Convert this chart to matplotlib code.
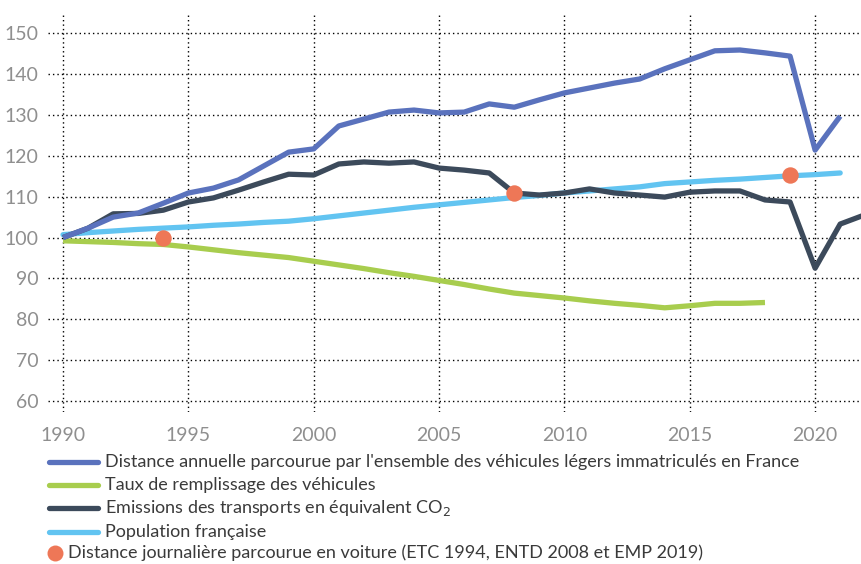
import matplotlib
matplotlib.use("Agg")
import matplotlib.pyplot as plt
from matplotlib.lines import Line2D

years = list(range(1990, 2022))
years_taux = list(range(1990, 2019))
years_emis = list(range(1990, 2023))

distance = [100.0, 102.3, 105.0, 106.0, 108.4, 110.9, 112.1, 114.1, 117.5, 120.9,
            121.7, 127.3, 129.0, 130.7, 131.2, 130.5, 130.7, 132.7, 131.9, 133.7,
            135.4, 136.6, 137.8, 138.8, 141.3, 143.5, 145.7, 145.9, 145.2, 144.4,
            121.4, 129.7]
taux = [99.2, 99.0, 98.8, 98.5, 98.3, 97.7, 97.0, 96.3, 95.7, 95.1,
        94.2, 93.3, 92.4, 91.4, 90.5, 89.5, 88.5, 87.4, 86.4, 85.8,
        85.2, 84.5, 83.9, 83.4, 82.8, 83.3, 83.9, 83.9, 84.1]
emissions = [100.0, 102.3, 105.8, 105.9, 106.7, 108.7, 109.7, 111.6, 113.6, 115.5,
             115.3, 118.0, 118.5, 118.2, 118.5, 117.0, 116.5, 115.8, 110.9, 110.4,
             110.9, 111.9, 110.9, 110.4, 109.9, 111.1, 111.4, 111.4, 109.2, 108.7,
             92.5, 103.3, 105.6]
population = [100.7, 101.2, 101.6, 102.0, 102.3, 102.6, 103.0, 103.3, 103.7, 104.0,
              104.6, 105.3, 106.0, 106.7, 107.4, 108.0, 108.6, 109.2, 109.8, 110.3,
              110.9, 111.4, 111.9, 112.4, 113.2, 113.6, 114.0, 114.3, 114.7, 115.1,
              115.4, 115.8]
enquete_years = [1994, 2008, 2019]
enquete_vals = [100.0, 110.9, 115.4]

x_ticks = [1990, 1995, 2000, 2005, 2010, 2015, 2020]
y_ticks = [60, 70, 80, 90, 100, 110, 120, 130, 140, 150]

labels = [
    "Distance annuelle parcourue par l'ensemble des véhicules légers immatriculés en France",
    "Taux de remplissage des véhicules",
    "Emissions des transports en équivalent CO$_2$",
    "Population française",
    "Distance journalière parcourue en voiture (ETC 1994, ENTD 2008 et EMP 2019)",
]

c_dist = "#5a72bd"
c_taux = "#a8cd4e"
c_emis = "#3c4a5b"
c_pop = "#62c4f1"
c_dot = "#ee7757"

plt.rcParams["font.family"] = ["Lato", "DejaVu Sans"]

fig = plt.figure(figsize=(8.62, 5.64), dpi=100)
ax = fig.add_axes([48 / 862, 1 - 412 / 564, 814 / 862, 400 / 564])

lw = 3.8
ax.plot(years_taux, taux, color=c_taux, lw=lw, solid_capstyle="butt", zorder=3)
ax.plot(years, population, color=c_pop, lw=lw, solid_capstyle="round", zorder=3)
ax.plot(years_emis, emissions, color=c_emis, lw=lw, solid_capstyle="butt", zorder=4)
ax.plot(years, distance, color=c_dist, lw=lw, solid_capstyle="butt", zorder=5)
ax.scatter(enquete_years, enquete_vals, s=140, color=c_dot, zorder=6, linewidths=0)

ax.set_xlim(1989.4, 2021.87)
ax.set_ylim(57.3, 155.2)
ax.set_xticks(x_ticks)
ax.set_yticks(y_ticks)
ax.grid(True, color="black", linestyle=(0, (1, 2.2)), linewidth=1.0)
ax.set_axisbelow(True)
for s in ax.spines.values():
    s.set_visible(False)
ax.tick_params(length=0, labelsize=14, labelcolor="#8f8f8f")
ax.tick_params(axis="x", pad=11)
ax.tick_params(axis="y", pad=7)

# legend
rows = [462, 485, 508, 532]
for y, col, lab in zip(rows, [c_dist, c_taux, c_emis, c_pop], labels[:4]):
    yf = 1 - y / 564
    fig.add_artist(Line2D([49 / 862, 98 / 862], [yf, yf], color=col, lw=3.8,
                          solid_capstyle="round", transform=fig.transFigure))
    fig.text(105 / 862, yf, lab, fontsize=13, color="#3a3a3a", va="center", ha="left")
yf = 1 - 553 / 564
fig.add_artist(Line2D([55 / 862], [yf], marker="o", markersize=11.5, color=c_dot,
                      markeredgewidth=0, transform=fig.transFigure))
fig.text(68 / 862, yf, labels[4], fontsize=13, color="#3a3a3a", va="center", ha="left")

fig.savefig("out.png", dpi=100)
